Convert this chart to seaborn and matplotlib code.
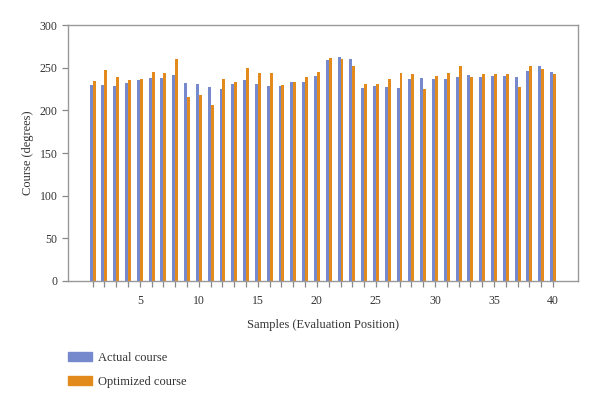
import numpy as np
import pandas as pd
import matplotlib.pyplot as plt
import seaborn as sns

samples = list(range(1, 41))
actual_course = [230, 229.5, 228, 232.5, 235.5, 238, 238, 241.5, 232, 231,
                 227.5, 225, 231.5, 235.5, 231.5, 228.5, 228.5, 233, 233.5, 240.5,
                 259, 262.5, 260.5, 226, 228.5, 227.5, 226.5, 237, 238.5, 237,
                 237, 239, 241, 239.5, 240.5, 240.5, 239.5, 246.5, 252.5, 245]
optimized_course = [235, 247, 239, 235.5, 237, 245.5, 243.5, 260, 216, 218,
                    206, 237, 233, 249.5, 243.5, 243.5, 230, 233, 239, 245.5,
                    261.5, 260, 251.5, 231, 231, 237, 243.5, 243, 225, 240.5,
                    243.5, 251.5, 239.5, 243, 243, 243, 227, 252.5, 249, 243]
series_names = ["Actual course", "Optimized course"]
colors = ["#7689cc", "#e38a1d"]

df = pd.DataFrame({
    "Sample": samples * 2,
    "Course": actual_course + optimized_course,
    "Series": [series_names[0]] * len(samples) + [series_names[1]] * len(samples),
})

sns.set_style("ticks")
plt.rcParams["font.family"] = ["Liberation Serif", "DejaVu Serif"]

fig = plt.figure(figsize=(6, 3.98), dpi=100)
ax = fig.add_axes([0.113, 0.294, 0.85, 0.643])

sns.barplot(data=df, x="Sample", y="Course", hue="Series", palette=colors,
            native_scale=True, width=0.5, dodge=True, ax=ax, legend=False,
            saturation=1, errorbar=None, linewidth=0)

ax.set_xlim(-1.1, 42.1)
ax.set_ylim(0, 300)
ax.set_yticks(range(0, 301, 50))
ax.set_xticks(samples)
ax.set_xticklabels([str(s) if s % 5 == 0 else "" for s in samples])
ax.tick_params(axis="both", labelsize=8.5, labelcolor="#333333", color="#888888",
               length=4, width=0.9)
ax.tick_params(axis="x", pad=6)
for sp in ax.spines.values():
    sp.set_visible(True)
    sp.set_color("#999999")
    sp.set_linewidth(1)

ax.set_xlabel("Samples (Evaluation Position)", fontsize=9, color="#333333", labelpad=9)
ax.set_ylabel("Course (degrees)", fontsize=9, color="#333333", labelpad=4)

handles = [plt.Rectangle((0, 0), 1, 1, color=c) for c in colors]
fig.legend(handles, series_names, loc="upper left", bbox_to_anchor=(0.095, 0.145),
           frameon=False, fontsize=9, handlelength=1.9, handleheight=0.7,
           labelspacing=1.0, handletextpad=0.5, labelcolor="#333333")

fig.savefig("out.png", dpi=100)
